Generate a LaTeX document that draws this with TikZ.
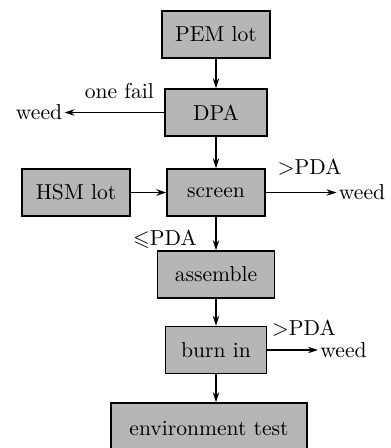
\documentclass[tikz,border=0pt]{standalone}
\usepackage{amsmath,amssymb}
\usepackage{tikz}
\usetikzlibrary{positioning,arrows.meta}
\definecolor{boxgray}{RGB}{182,182,182}

\begin{document}
\begin{tikzpicture}[node distance=2cm,on grid,auto,
    font=\fontsize{10.8pt}{12pt}\selectfont]
    \tikzset{stage/.style={draw,rectangle,fill=boxgray,line width=0.7pt,minimum height=23.5pt,minimum width=50pt},
      reject/.style={inner sep=1pt},
      >={Stealth[length=5pt,width=3.2pt]}}
    \useasboundingbox (0,0) rectangle (195pt,-224pt);
    \node[stage,minimum width=54pt] (pem) at (108pt,-17.25pt) {PEM lot};
    \node[stage,minimum width=51pt] (dpa) [below = 39pt of pem] {DPA};
    \node[stage,minimum width=49pt] (scr) [below = 40pt of dpa] {screen};
    \node[stage,minimum width=54pt] (hsm) [left = 70pt of scr] {HSM lot};
    \node[stage,minimum width=58.5pt] (asm) [below = 41pt of scr] {assemble};
    \node[stage,minimum width=50.5pt] (burn) [below = 37.75pt of asm] {burn in};
    \node[stage,minimum width=98pt,minimum height=26pt] (env) [below = 39.5pt of burn, xshift=-3.5pt] {environment test};
    \node[reject] (weedL) [left = 88.5pt of dpa] {weed};
    \node[reject] (weedS) [right = 73pt of scr] {weed};
    \node[reject] (weedB) [right = 63.75pt of burn] {weed};
    \path[->,line width=0.6pt]
    (pem) edge [] node [] {} (dpa)
    (dpa)
    edge [] node [] {} (scr)
    edge [] node [above,pos=0.45,yshift=3pt] {one fail} (weedL)
    (hsm)
    edge [] node [] {} (scr)
    (scr)
    edge [] node [above,pos=0.62,yshift=5pt] {$>$PDA} (weedS)
    edge [] node [left,xshift=-6pt,yshift=-3pt] {$\leqslant$PDA} (asm)
    (asm)
    edge [] node [] {} (burn)
    (burn)
    edge [] node [above,pos=0.72,yshift=3pt] {$>$PDA} (weedB)
    (burn.south) edge [] node [] {} (burn.south |- env.north)
    ;
\end{tikzpicture}
\end{document}
